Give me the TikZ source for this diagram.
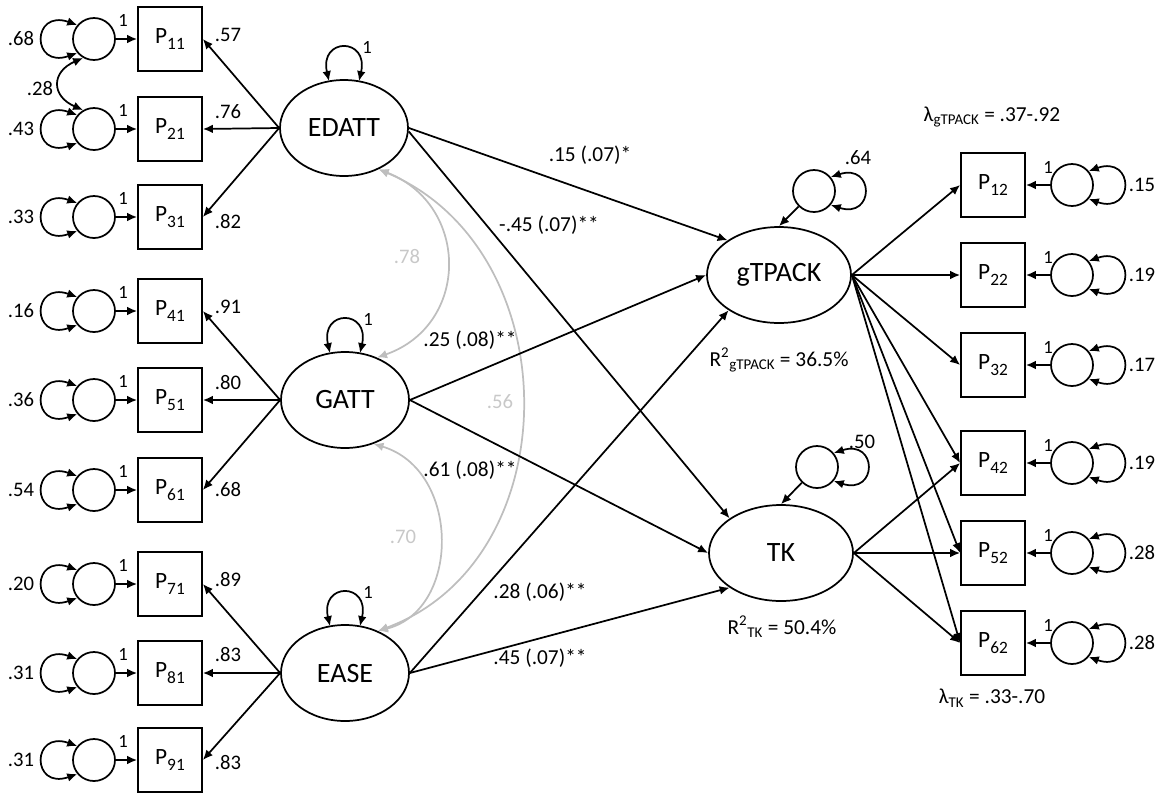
\documentclass[tikz,border=0pt]{standalone}
\usepackage{fontspec}
\setmainfont{Carlito}
\usetikzlibrary{arrows.meta,calc,shapes.geometric}
\definecolor{covgray}{RGB}{190,190,190}
\definecolor{covtext}{RGB}{200,200,200}
\newcommand{\myP}[1]{P\raisebox{-4.5pt}{\fontsize{13}{15}\selectfont #1}}
\begin{document}
\begin{tikzpicture}[x=0.75pt,y=-0.75pt,
  >={Latex[length=7.5pt,width=6.5pt]},
  obs/.style={draw, line width=1.3pt, minimum width=48pt, minimum height=48pt, inner sep=0pt, font=\fontsize{17.5}{20}\selectfont},
  lat/.style={draw, ellipse, line width=1.3pt, minimum width=96pt, minimum height=72pt, inner sep=0pt, font=\fontsize{21}{24}\selectfont},
  latw/.style={lat, minimum width=108pt},
  err/.style={draw, circle, line width=1.3pt, minimum size=31.5pt, inner sep=0pt},
  lbl/.style={font=\fontsize{15.5}{18}\selectfont, inner sep=0pt},
  one/.style={font=\fontsize{14}{16}\selectfont, inner sep=0pt},
  coef/.style={font=\fontsize{16}{19}\selectfont, inner sep=0pt},
  covlbl/.style={lbl, text=covtext},
  arr/.style={->, line width=1.3pt},
  dbl/.style={<->, line width=1.3pt},
  cov/.style={<->, line width=1.3pt, draw=covgray, >={Latex[length=7.5pt,width=6.5pt,fill=covgray]}}
]
\useasboundingbox (0,0) rectangle (1163,793);

% latent variables
\node[lat] (EDATT) at (344,128) {EDATT};
\node[lat] (GATT) at (345,400) {GATT};
\node[lat] (EASE) at (345,673) {EASE};
\node[latw] (gTPACK) at (779,275) {gTPACK};
\node[latw] (TK) at (781,553) {TK};

% left indicators
\foreach \i/\y/\v in {1/39/.68, 2/129/.43, 3/217/.33, 4/311/.16, 5/400/.36, 6/490/.54, 7/584/.20, 8/673/.31, 9/760/.31} {
  \node[obs] (P\i1) at (170,\y) {\myP{\i1}};
  \node[err] (e\i1) at (94,\y) {};
  \draw[arr] (e\i1) -- (P\i1);
  \node[one] at (123,\y-19) {1};
  \draw[dbl] (e\i1.140) .. controls +(-46,-16) and +(-46,16) .. (e\i1.220);
  \node[lbl] at (21,\y) {\v};
}
% error covariance
\draw[dbl] (e11.240) .. controls +(-32,14) and +(-32,-14) .. (e21.120);
\node[lbl] at (40,89) {.28};

% loadings left
\foreach \p/\l in {11/EDATT, 21/EDATT, 31/EDATT, 41/GATT, 51/GATT, 61/GATT, 71/EASE, 81/EASE, 91/EASE} {
  \draw[arr] (\l.west) -- (P\p.east);
}
\foreach \t/\ly in {.57/35, .76/112, .82/222, .91/307, .80/383, .68/490, .89/580, .83/655, .83/763} {
  \node[lbl] at (228,\ly) {\t};
}

% latent variance loops
\foreach \l in {EDATT, GATT, EASE} {
  \draw[dbl] ($(\l.north)+(-15,2)$) .. controls +(-10,-44) and +(10,-44) .. ($(\l.north)+(15,2)$);
  \node[one] at ($(\l.north)+(23,-32)$) {1};
}

% covariances among exogenous latents
\draw[cov] (EDATT.-50) .. controls (470,205) and (470,325) .. (GATT.53);
\draw[cov] (EDATT.-50) .. controls (570,250) and (570,560) .. (EASE.52);
\draw[cov] (GATT.-57) .. controls (461,470) and (461,610) .. (EASE.52);
\node[covlbl] at (407,257) {.78};
\node[covlbl] at (500,402) {.56};
\node[covlbl] at (403,537) {.70};

% structural paths
\draw[arr] (EDATT.east) -- (gTPACK.146);
\draw[arr] (EDATT.-3) -- (TK.146);
\draw[arr] (GATT.east) -- (gTPACK.west);
\draw[arr] (GATT.east) -- (TK.west);
\draw[arr] (EASE.east) -- (gTPACK.215);
\draw[arr] (EASE.east) -- (TK.214);
\node[coef] at (590,155) {.15 (.07)*};
\node[coef] at (549,225) {-.45 (.07)**};
\node[coef] at (470,340) {.25 (.08)**};
\node[coef] at (470,470) {.61 (.08)**};
\node[coef] at (540,592) {.28 (.06)**};
\node[coef] at (540,658) {.45 (.07)**};

% disturbances
\node[err] (eg) at (814,191) {};
\draw[arr] (eg) -- (gTPACK.north);
\draw[dbl] (eg.40) .. controls +(44,-14) and +(44,14) .. (eg.-40);
\node[lbl] at (858,158) {.64};
\node[err] (et) at (817,467) {};
\draw[arr] (et) -- (TK.north);
\draw[dbl] (et.40) .. controls +(44,-14) and +(44,14) .. (et.-40);
\node[lbl] at (862,442) {.50};

% right indicators
\foreach \i/\y/\v in {1/185/.15, 2/275/.19, 3/365/.17, 4/463/.19, 5/553/.28, 6/643/.28} {
  \node[obs] (P\i2) at (993,\y) {\myP{\i2}};
  \node[err] (e\i2) at (1072,\y) {};
  \draw[arr] (e\i2) -- (P\i2);
  \node[one] at (1048,\y-18) {1};
  \draw[dbl] (e\i2.40) .. controls +(46,-16) and +(46,16) .. (e\i2.-40);
  \node[lbl] at (1142,\y) {\v};
  \draw[arr] (gTPACK.east) -- (P\i2.west);
}
\foreach \i in {4,5,6} { \draw[arr] (TK.east) -- (P\i2.west); }

% annotations
\node[coef] at (992,117) {λ\textsubscript{gTPACK} = .37-.92};
\node[coef] at (992,698) {λ\textsubscript{TK} = .33-.70};
\node[coef] at (779,360) {R\textsuperscript{2}\textsubscript{gTPACK} = 36.5\%};
\node[coef] at (782,627) {R\textsuperscript{2}\textsubscript{TK} = 50.4\%};
\end{tikzpicture}
\end{document}
